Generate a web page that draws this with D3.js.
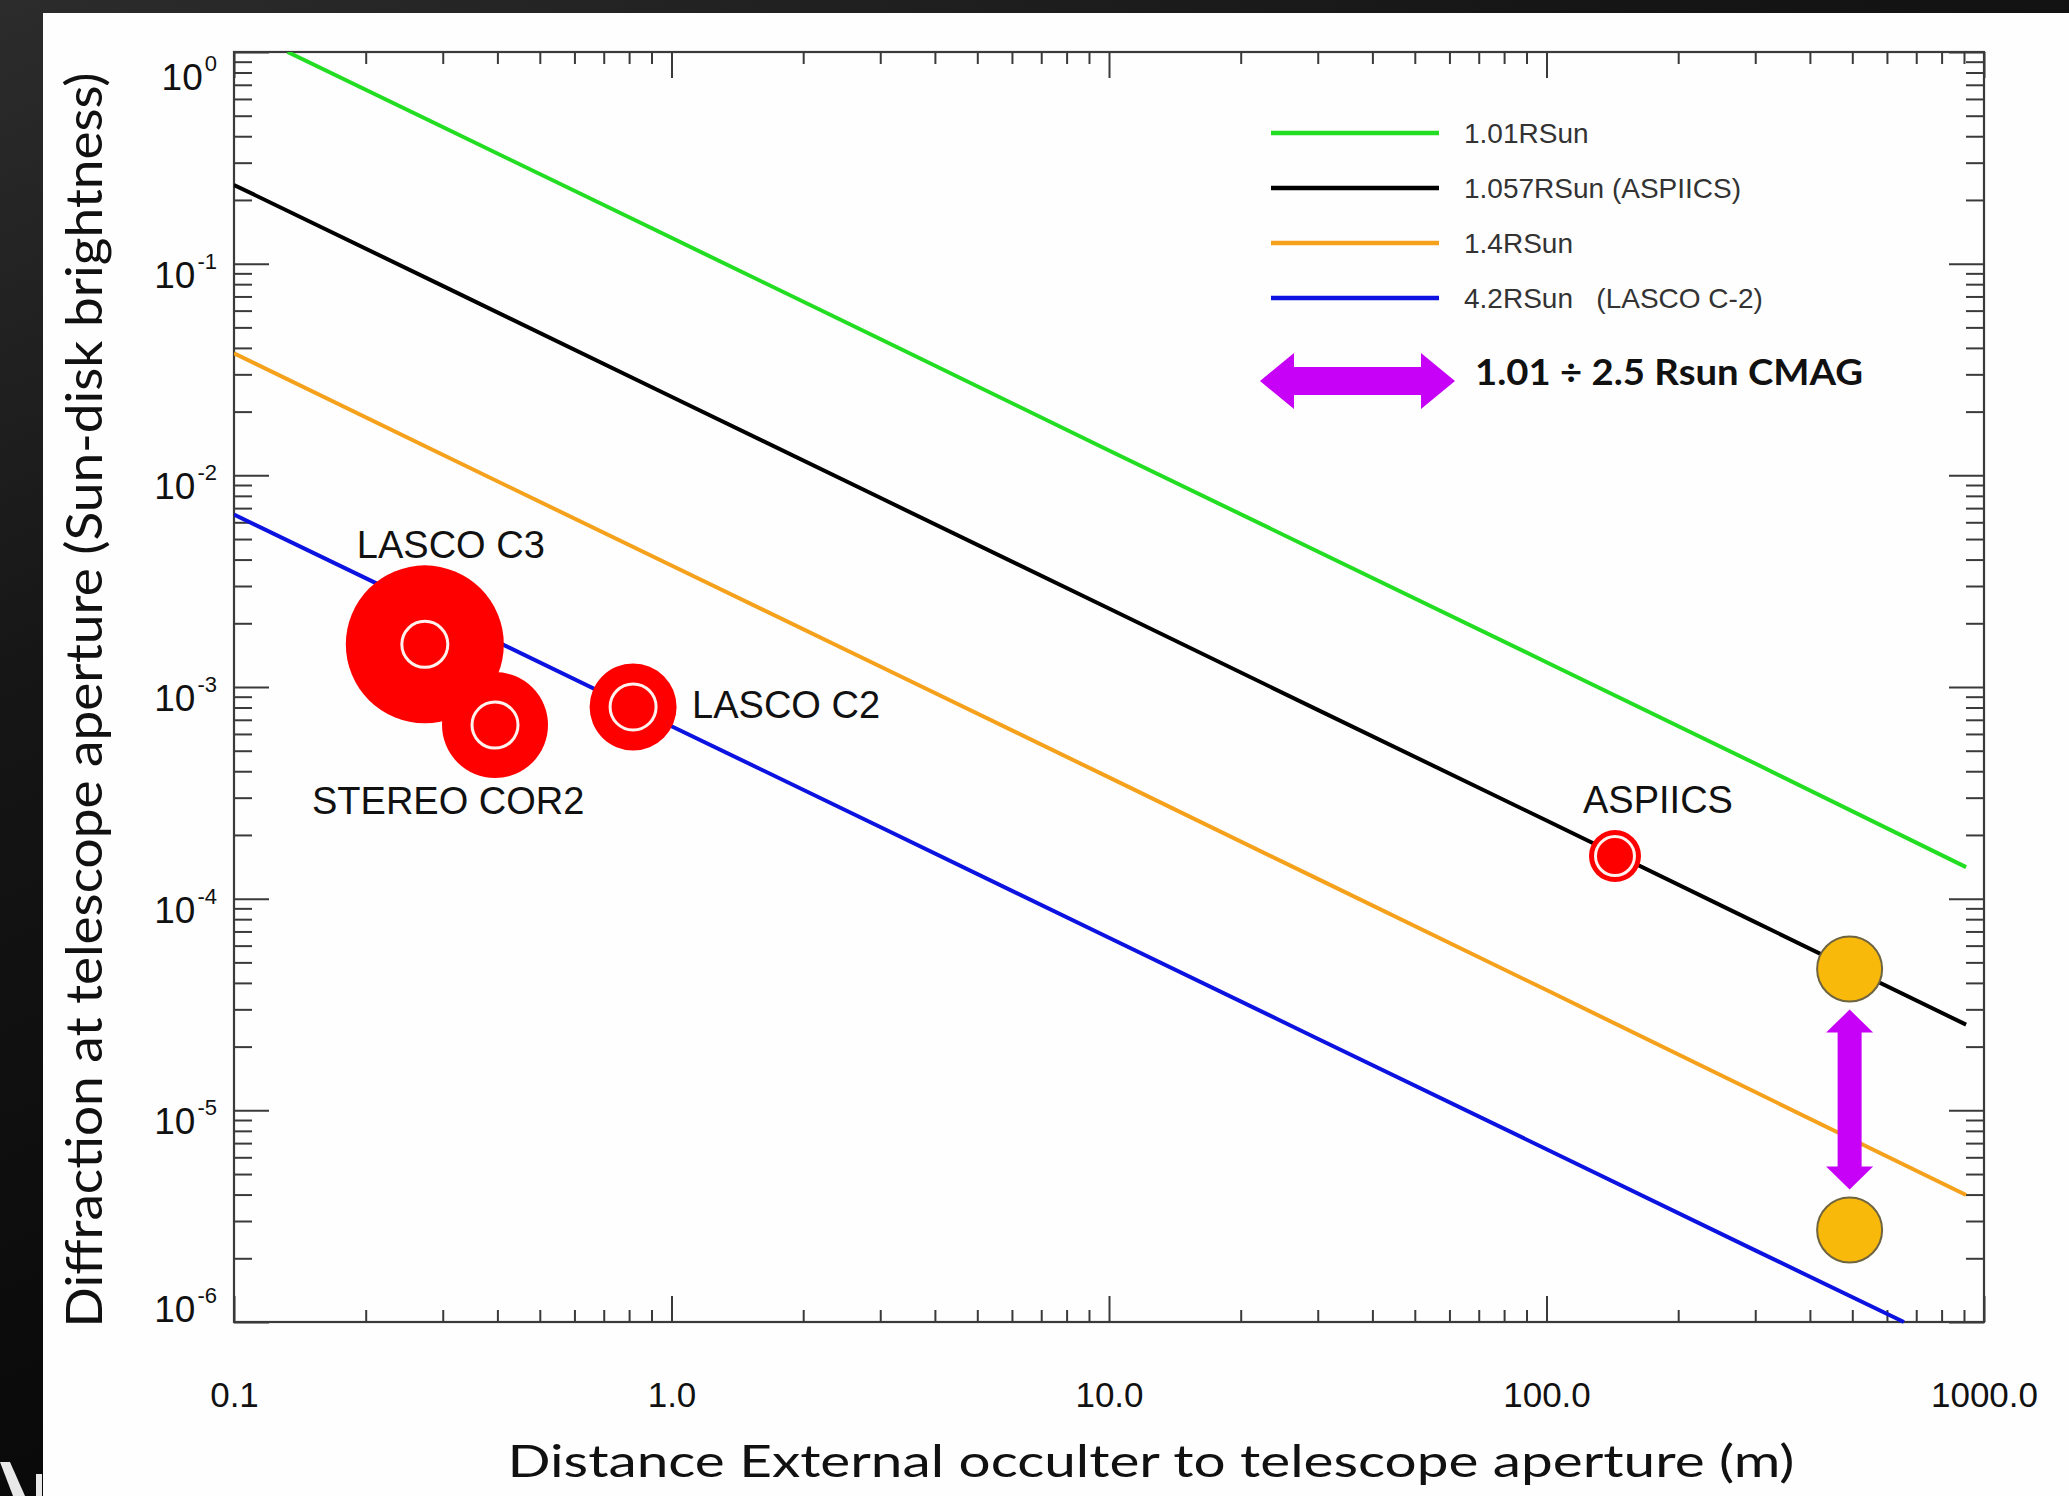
<!DOCTYPE html>
<html>
<head>
<meta charset="utf-8">
<script src="https://cdn.jsdelivr.net/npm/d3@7"></script>
<style>
  html, body { margin: 0; padding: 0; background: #000; }
  svg { display: block; }
</style>
</head>
<body>
<svg id="chart" width="2069" height="1496"></svg>
<script>
"use strict";

// Diffraction curves: distance occulter -> aperture (m) vs diffraction (Sun-disk brightness)
const curveNames = ["1.01RSun", "1.057RSun (ASPIICS)", "1.4RSun", "4.2RSun   (LASCO C-2)"];
const distGreen = [0.1326, 0.3, 1, 3, 10, 30, 100, 300, 910];
const diffrGreen = [1.0, 0.442, 0.1325, 0.0441, 0.0131, 0.00437, 0.00131, 0.000435, 0.000141];
const distBlack = [0.1, 0.3, 1, 3, 10, 30, 100, 300, 910];
const diffrBlack = [0.2355, 0.0785, 0.0235, 0.00783, 0.00235, 0.00078, 0.000234, 0.0000775, 0.0000254];
const distOrange = [0.1, 0.3, 1, 3, 10, 30, 100, 300, 910];
const diffrOrange = [0.0377, 0.0125, 0.00375, 0.00125, 0.000374, 0.000124, 0.000037, 0.0000122, 0.00000398];
const distBlue = [0.1, 0.3, 1, 3, 10, 30, 100, 300, 656];
const diffrBlue = [0.00652, 0.00218, 0.000653, 0.000218, 0.0000654, 0.0000218, 0.00000655, 0.00000218, 0.000001];

// Existing coronagraphs
const instruments = ["LASCO C3", "STEREO COR2", "LASCO C2", "ASPIICS"];
const instrumentDist = [0.273, 0.395, 0.817, 143.4];
const instrumentDiffr = [0.00159, 0.000661, 0.000805, 0.000159];

// CMAG range (upper / lower)
const cmagDist = [493, 493];
const cmagDiffr = [0.0000465, 0.00000272];
const cmagLabel = "1.01 \u00f7 2.5 Rsun CMAG";

// Axis ticks
const xTickValues = [0.1, 1, 10, 100, 1000];
const xTickLabels = ["0.1", "1.0", "10.0", "100.0", "1000.0"];
const yTickExponents = [0, -1, -2, -3, -4, -5, -6];
const xTitle = "Distance External occulter to telescope aperture (m)";
const yTitle = "Diffraction at telescope aperture (Sun-disk brightness)";

// Styles
const CURVE_COLORS = ["#22dd22", "#000000", "#f5a11c", "#0c12e0"];
const AXIS_COLOR = "#3a3a3a";
const PURPLE = "#c700f7";
const RED = "#ff0000";
const GOLD = "#f9b90b";
// marker radius, ring radius, label dx / dy from marker centre
const instrumentStyle = [
  { r: 79, ring: 23, dx: -68, dy: -86 },
  { r: 53, ring: 23, dx: -183, dy: 89 },
  { r: 43.5, ring: 23, dx: 59, dy: 11 },
  { r: 26, ring: 19.5, dx: -32, dy: -43 }
];

const plot = { left: 234, right: 1984, top: 52, bottom: 1322 };

const svg = d3.select("#chart");

// background: dark photo border + white slide
const defs = svg.append("defs");
const grad = defs.append("linearGradient").attr("id", "bg").attr("x1", 0).attr("y1", 0).attr("x2", 0.6).attr("y2", 1);
grad.append("stop").attr("offset", "0%").attr("stop-color", "#2c2c2c");
grad.append("stop").attr("offset", "35%").attr("stop-color", "#151515");
grad.append("stop").attr("offset", "100%").attr("stop-color", "#020202");
svg.append("rect").attr("width", 2069).attr("height", 1496).attr("fill", "url(#bg)");
svg.append("rect").attr("x", 43).attr("y", 13).attr("width", 2069 - 43).attr("height", 1496 - 13).attr("fill", "#fefefe");
svg.append("path").attr("d", "M0,1462 L10,1462 L25,1496 L13,1496 Z").attr("fill", "#e8e8e8");
svg.append("rect").attr("x", 36).attr("y", 1474).attr("width", 6).attr("height", 22).attr("fill", "#e8e8e8");

defs.append("clipPath").attr("id", "plotClip")
  .append("rect")
  .attr("x", plot.left).attr("y", plot.top)
  .attr("width", plot.right - plot.left).attr("height", plot.bottom - plot.top + 4);

const x = d3.scaleLog().domain([0.1, 1000]).range([plot.left, plot.right]);
const y = d3.scaleLog().domain([1e-6, 1]).range([plot.bottom, plot.top]);

function isDecade(v) {
  const l = Math.log10(v);
  return Math.abs(l - Math.round(l)) < 1e-9;
}

const xMajor = x.ticks().filter(isDecade);
const xMinor = x.ticks().filter((v) => !isDecade(v));
const yMajor = y.ticks().filter(isDecade);
const yMinor = y.ticks().filter((v) => !isDecade(v));

// inward ticks on all four sides
function drawTicks(axisFn, values, size, transform) {
  const g = svg.append("g")
    .attr("transform", transform)
    .call(axisFn.tickValues(values).tickSizeInner(-size).tickSizeOuter(0).tickFormat(""));
  g.select(".domain").remove();
  g.selectAll("line").attr("stroke", AXIS_COLOR).attr("stroke-width", 2);
}
drawTicks(d3.axisBottom(x), xMinor, 12, `translate(0,${plot.bottom})`);
drawTicks(d3.axisBottom(x), xMajor, 26, `translate(0,${plot.bottom})`);
drawTicks(d3.axisTop(x), xMinor, 12, `translate(0,${plot.top})`);
drawTicks(d3.axisTop(x), xMajor, 26, `translate(0,${plot.top})`);
drawTicks(d3.axisLeft(y), yMinor, 18, `translate(${plot.left},0)`);
drawTicks(d3.axisLeft(y), yMajor, 35, `translate(${plot.left},0)`);
drawTicks(d3.axisRight(y), yMinor, 18, `translate(${plot.right},0)`);
drawTicks(d3.axisRight(y), yMajor, 35, `translate(${plot.right},0)`);

svg.append("rect")
  .attr("x", plot.left).attr("y", plot.top)
  .attr("width", plot.right - plot.left).attr("height", plot.bottom - plot.top)
  .attr("fill", "none").attr("stroke", AXIS_COLOR).attr("stroke-width", 2.2);

// x tick labels
const xLabels = svg.append("g")
  .attr("transform", `translate(0,${plot.bottom})`)
  .call(d3.axisBottom(x).tickValues(xTickValues).tickFormat((d, i) => xTickLabels[i]).tickSize(0).tickPadding(60));
xLabels.select(".domain").remove();
xLabels.selectAll("text")
  .attr("font-family", "'Liberation Sans', Arial, sans-serif")
  .attr("font-size", 35)
  .attr("fill", "#111");

// y tick labels: 10 with superscript exponent
const yLabels = svg.append("g")
  .selectAll("text")
  .data(yTickExponents)
  .join("text")
  .attr("x", 217)
  .attr("y", (e) => Math.min(Math.max(y(Math.pow(10, e)) + 24, 90), plot.bottom))
  .attr("text-anchor", "end")
  .attr("font-family", "'Liberation Sans', Arial, sans-serif")
  .attr("fill", "#111");
yLabels.append("tspan").attr("font-size", 37).text("10");
yLabels.append("tspan").attr("font-size", 22).attr("dx", 2).attr("dy", -19).text((e) => String(e));

// diffraction curves
const curves = [
  { dist: distGreen, diffr: diffrGreen },
  { dist: distBlack, diffr: diffrBlack },
  { dist: distOrange, diffr: diffrOrange },
  { dist: distBlue, diffr: diffrBlue }
].map((c, i) => ({ name: curveNames[i], points: c.dist.map((d, j) => [d, c.diffr[j]]) }));

const line = d3.line().x((d) => x(d[0])).y((d) => y(d[1]));

svg.append("g")
  .attr("clip-path", "url(#plotClip)")
  .selectAll("path")
  .data(curves)
  .join("path")
  .attr("d", (d) => line(d.points))
  .attr("fill", "none")
  .attr("stroke", (d, i) => CURVE_COLORS[i])
  .attr("stroke-width", 4)
  .attr("stroke-linejoin", "round");

// legend
const legend = svg.append("g")
  .selectAll("g")
  .data(curveNames)
  .join("g")
  .attr("transform", (d, i) => `translate(1271,${[133, 188, 243, 298][i]})`);
legend.append("line")
  .attr("x1", 0).attr("x2", 168)
  .attr("stroke", (d, i) => CURVE_COLORS[i])
  .attr("stroke-width", 4.5);
legend.append("text")
  .attr("x", 193).attr("y", 10)
  .attr("font-family", "'Liberation Sans', Arial, sans-serif")
  .attr("font-size", 28)
  .attr("fill", "#333")
  .style("white-space", "pre")
  .text((d) => d);

// block double arrow along local x axis
function doubleArrow(len, shaft, head, headLen) {
  const a = headLen, b = len - headLen;
  return `M0,0 L${a},${-head} L${a},${-shaft} L${b},${-shaft} L${b},${-head} L${len},0 ` +
    `L${b},${head} L${b},${shaft} L${a},${shaft} L${a},${head} Z`;
}

svg.append("path")
  .attr("transform", "translate(1260,381)")
  .attr("d", doubleArrow(195, 14, 28, 34))
  .attr("fill", PURPLE);
svg.append("text")
  .attr("x", 1475).attr("y", 385)
  .attr("font-family", "Lato, 'Open Sans', sans-serif")
  .attr("font-weight", "bold")
  .attr("font-size", 36)
  .attr("fill", "#111")
  .attr("textLength", 388)
  .attr("lengthAdjust", "spacingAndGlyphs")
  .text(cmagLabel);

// instrument markers
const markers = svg.append("g")
  .selectAll("g")
  .data(instruments)
  .join("g")
  .attr("transform", (d, i) => `translate(${x(instrumentDist[i])},${y(instrumentDiffr[i])})`);
markers.append("circle")
  .attr("r", (d, i) => instrumentStyle[i].r)
  .attr("fill", RED);
markers.append("circle")
  .attr("r", (d, i) => instrumentStyle[i].ring)
  .attr("fill", "none")
  .attr("stroke", "#fff2ee")
  .attr("stroke-width", 3);
markers.append("text")
  .attr("x", (d, i) => instrumentStyle[i].dx)
  .attr("y", (d, i) => instrumentStyle[i].dy)
  .attr("font-family", "'Liberation Sans', Arial, sans-serif")
  .attr("font-size", 38)
  .attr("fill", "#111")
  .text((d) => d);

// CMAG points and vertical arrow between them
const cmagR = 32.5;
const cx = x(cmagDist[0]);
const yTop = y(cmagDiffr[0]) + cmagR + 8;
const yBot = y(cmagDiffr[1]) - cmagR - 8;
svg.append("path")
  .attr("transform", `translate(${cx},${yTop}) rotate(90)`)
  .attr("d", doubleArrow(yBot - yTop, 12, 23.5, 23))
  .attr("fill", PURPLE);
svg.append("g")
  .selectAll("circle")
  .data(cmagDist)
  .join("circle")
  .attr("cx", (d) => x(d))
  .attr("cy", (d, i) => y(cmagDiffr[i]))
  .attr("r", cmagR)
  .attr("fill", GOLD)
  .attr("stroke", "#6e6440")
  .attr("stroke-width", 2);

// axis titles
svg.append("text")
  .attr("transform", "translate(102,700) rotate(-90)")
  .attr("text-anchor", "middle")
  .attr("font-family", "Lato, 'Open Sans', sans-serif")
  .attr("font-size", 51)
  .attr("fill", "#111")
  .attr("textLength", 1255)
  .attr("lengthAdjust", "spacingAndGlyphs")
  .text(yTitle);
svg.append("text")
  .attr("x", 1151).attr("y", 1477)
  .attr("text-anchor", "middle")
  .attr("font-family", "Lato, 'Open Sans', sans-serif")
  .attr("font-size", 44)
  .attr("fill", "#111")
  .attr("textLength", 1287)
  .attr("lengthAdjust", "spacingAndGlyphs")
  .text(xTitle);
</script>
</body>
</html>
